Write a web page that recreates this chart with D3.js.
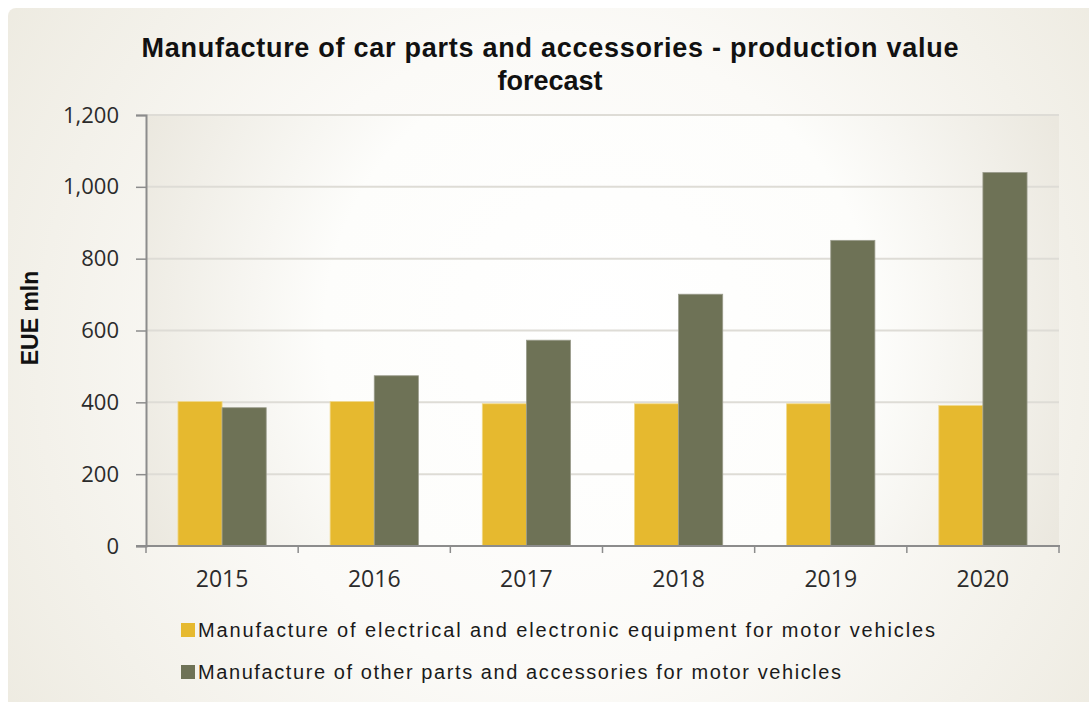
<!DOCTYPE html>
<html>
<head>
<meta charset="utf-8">
<script src="https://cdn.jsdelivr.net/npm/d3@7"></script>
<style>
  html, body { margin: 0; padding: 0; background: #ffffff; }
  svg { display: block; }
</style>
</head>
<body>
<svg id="chart" width="1089" height="702"></svg>
<script>
// Production value forecast, EUR mln
const years = ["2015", "2016", "2017", "2018", "2019", "2020"];
const seriesNames = [
  "Manufacture of electrical and electronic equipment for motor vehicles",
  "Manufacture of other parts and accessories for motor vehicles"
];
const electricalValues = [402, 402, 396, 396, 396, 391];
const otherPartsValues = [385, 474, 573, 701, 851, 1040];
const yTicks = [0, 200, 400, 600, 800, 1000, 1200];
const seriesColors = ["#e6b92f", "#6e7256"];

const svg = d3.select("#chart");
const W = 1089, H = 702;
const plot = { left: 146, right: 1059, top: 115, bottom: 546 };

const defs = svg.append("defs");
const bgGrad = defs.append("radialGradient").attr("id", "bgGrad")
  .attr("gradientUnits", "userSpaceOnUse")
  .attr("cx", 560).attr("cy", 360).attr("r", 720);
bgGrad.append("stop").attr("offset", "0%").attr("stop-color", "#ffffff");
bgGrad.append("stop").attr("offset", "45%").attr("stop-color", "#fbfaf7");
bgGrad.append("stop").attr("offset", "100%").attr("stop-color", "#ebe8dd");

const plotGrad = defs.append("radialGradient").attr("id", "plotGrad")
  .attr("gradientUnits", "userSpaceOnUse")
  .attr("cx", 600).attr("cy", 330).attr("r", 500);
plotGrad.append("stop").attr("offset", "0%").attr("stop-color", "#ffffff");
plotGrad.append("stop").attr("offset", "55%").attr("stop-color", "#fdfdfb");
plotGrad.append("stop").attr("offset", "100%").attr("stop-color", "#ebe8df");

// chart background
svg.append("rect").attr("x", 8).attr("y", 8).attr("width", W).attr("height", H)
  .attr("rx", 8).attr("fill", "url(#bgGrad)");

// plot area background
svg.append("rect").attr("x", plot.left).attr("y", plot.top)
  .attr("width", plot.right - plot.left).attr("height", plot.bottom - plot.top)
  .attr("fill", "url(#plotGrad)");

const x0 = d3.scaleBand().domain(years)
  .range([plot.left, plot.right]).paddingInner(0.42).paddingOuter(0.21);
const x1 = d3.scaleBand().domain([0, 1]).range([0, x0.bandwidth()]).padding(0);
const y = d3.scaleLinear().domain([0, 1200]).range([plot.bottom, plot.top]);

// gridlines
svg.append("g").selectAll("line").data(yTicks.filter(d => d > 0)).join("line")
  .attr("x1", plot.left).attr("x2", plot.right)
  .attr("y1", d => y(d)).attr("y2", d => y(d))
  .attr("stroke", "#dedcd6").attr("stroke-width", 2);

// bars
const data = years.map((yr, i) => ({ yr, vals: [electricalValues[i], otherPartsValues[i]] }));
const groups = svg.append("g").selectAll("g").data(data).join("g")
  .attr("transform", d => `translate(${x0(d.yr)},0)`);
groups.selectAll("rect").data(d => d.vals.map((v, k) => ({ v, k }))).join("rect")
  .attr("x", d => x1(d.k))
  .attr("width", x1.bandwidth())
  .attr("y", d => y(d.v))
  .attr("height", d => y(0) - y(d.v))
  .attr("fill", d => seriesColors[d.k])
  .attr("stroke", d => d.k === 0 ? "#f1d98a" : "#9a9c8c")
  .attr("stroke-width", 0.8);

// y axis
const yAxis = svg.append("g").attr("transform", `translate(${plot.left},0)`)
  .call(d3.axisLeft(y).tickValues(yTicks).tickSize(10).tickPadding(17)
    .tickFormat(d3.format(",")));
yAxis.select(".domain").attr("stroke", "#8c8c8c").attr("stroke-width", 2);
yAxis.selectAll(".tick line").attr("stroke", "#8c8c8c").attr("stroke-width", 1.5);
yAxis.selectAll("text").attr("font-family", "'Open Sans', sans-serif")
  .attr("font-size", 22).attr("fill", "#2b2b2b");

// x axis
const xTickPos = d3.range(years.length + 1).map(i => plot.left + i * x0.step());
const xAxisG = svg.append("g");
xAxisG.append("line").attr("x1", plot.left - 10).attr("x2", plot.right + 1)
  .attr("y1", plot.bottom).attr("y2", plot.bottom)
  .attr("stroke", "#8c8c8c").attr("stroke-width", 2);
xAxisG.selectAll(".tk").data(xTickPos).join("line").attr("class", "tk")
  .attr("x1", d => d).attr("x2", d => d)
  .attr("y1", plot.bottom).attr("y2", plot.bottom + 7)
  .attr("stroke", "#8c8c8c").attr("stroke-width", 1.5);
xAxisG.selectAll("text").data(years).join("text")
  .attr("x", d => x0(d) + x0.bandwidth() / 2)
  .attr("y", 587)
  .attr("text-anchor", "middle")
  .attr("font-family", "'Open Sans', sans-serif")
  .attr("font-size", 23).attr("fill", "#2b2b2b")
  .text(d => d);

// title
const title = svg.append("text").attr("text-anchor", "middle")
  .attr("font-family", "'Liberation Sans', Arial, sans-serif")
  .attr("font-weight", "bold").attr("font-size", 27).attr("fill", "#111");
title.append("tspan").attr("x", 550).attr("y", 57)
  .attr("textLength", 817).attr("lengthAdjust", "spacing")
  .text("Manufacture of car parts and accessories - production value");
title.append("tspan").attr("x", 550).attr("y", 90).text("forecast");

// y axis title
svg.append("text")
  .attr("transform", "translate(38,318) rotate(-90)")
  .attr("text-anchor", "middle")
  .attr("font-family", "'Liberation Sans', Arial, sans-serif")
  .attr("font-weight", "bold").attr("font-size", 23).attr("fill", "#111")
  .text("EUE mln");

// legend
const legend = svg.append("g").selectAll("g").data(seriesNames).join("g")
  .attr("transform", (d, i) => `translate(181,${623 + i * 42})`);
legend.append("rect").attr("width", 14).attr("height", 14)
  .attr("fill", (d, i) => seriesColors[i]);
legend.append("text").attr("x", 17).attr("y", 14)
  .attr("font-family", "'Liberation Sans Narrow', 'Liberation Sans', sans-serif")
  .attr("font-size", 20).attr("fill", "#1a1a1a")
  .attr("textLength", (d, i) => i === 0 ? 737 : 643)
  .attr("lengthAdjust", "spacing")
  .text(d => d);
</script>
</body>
</html>
